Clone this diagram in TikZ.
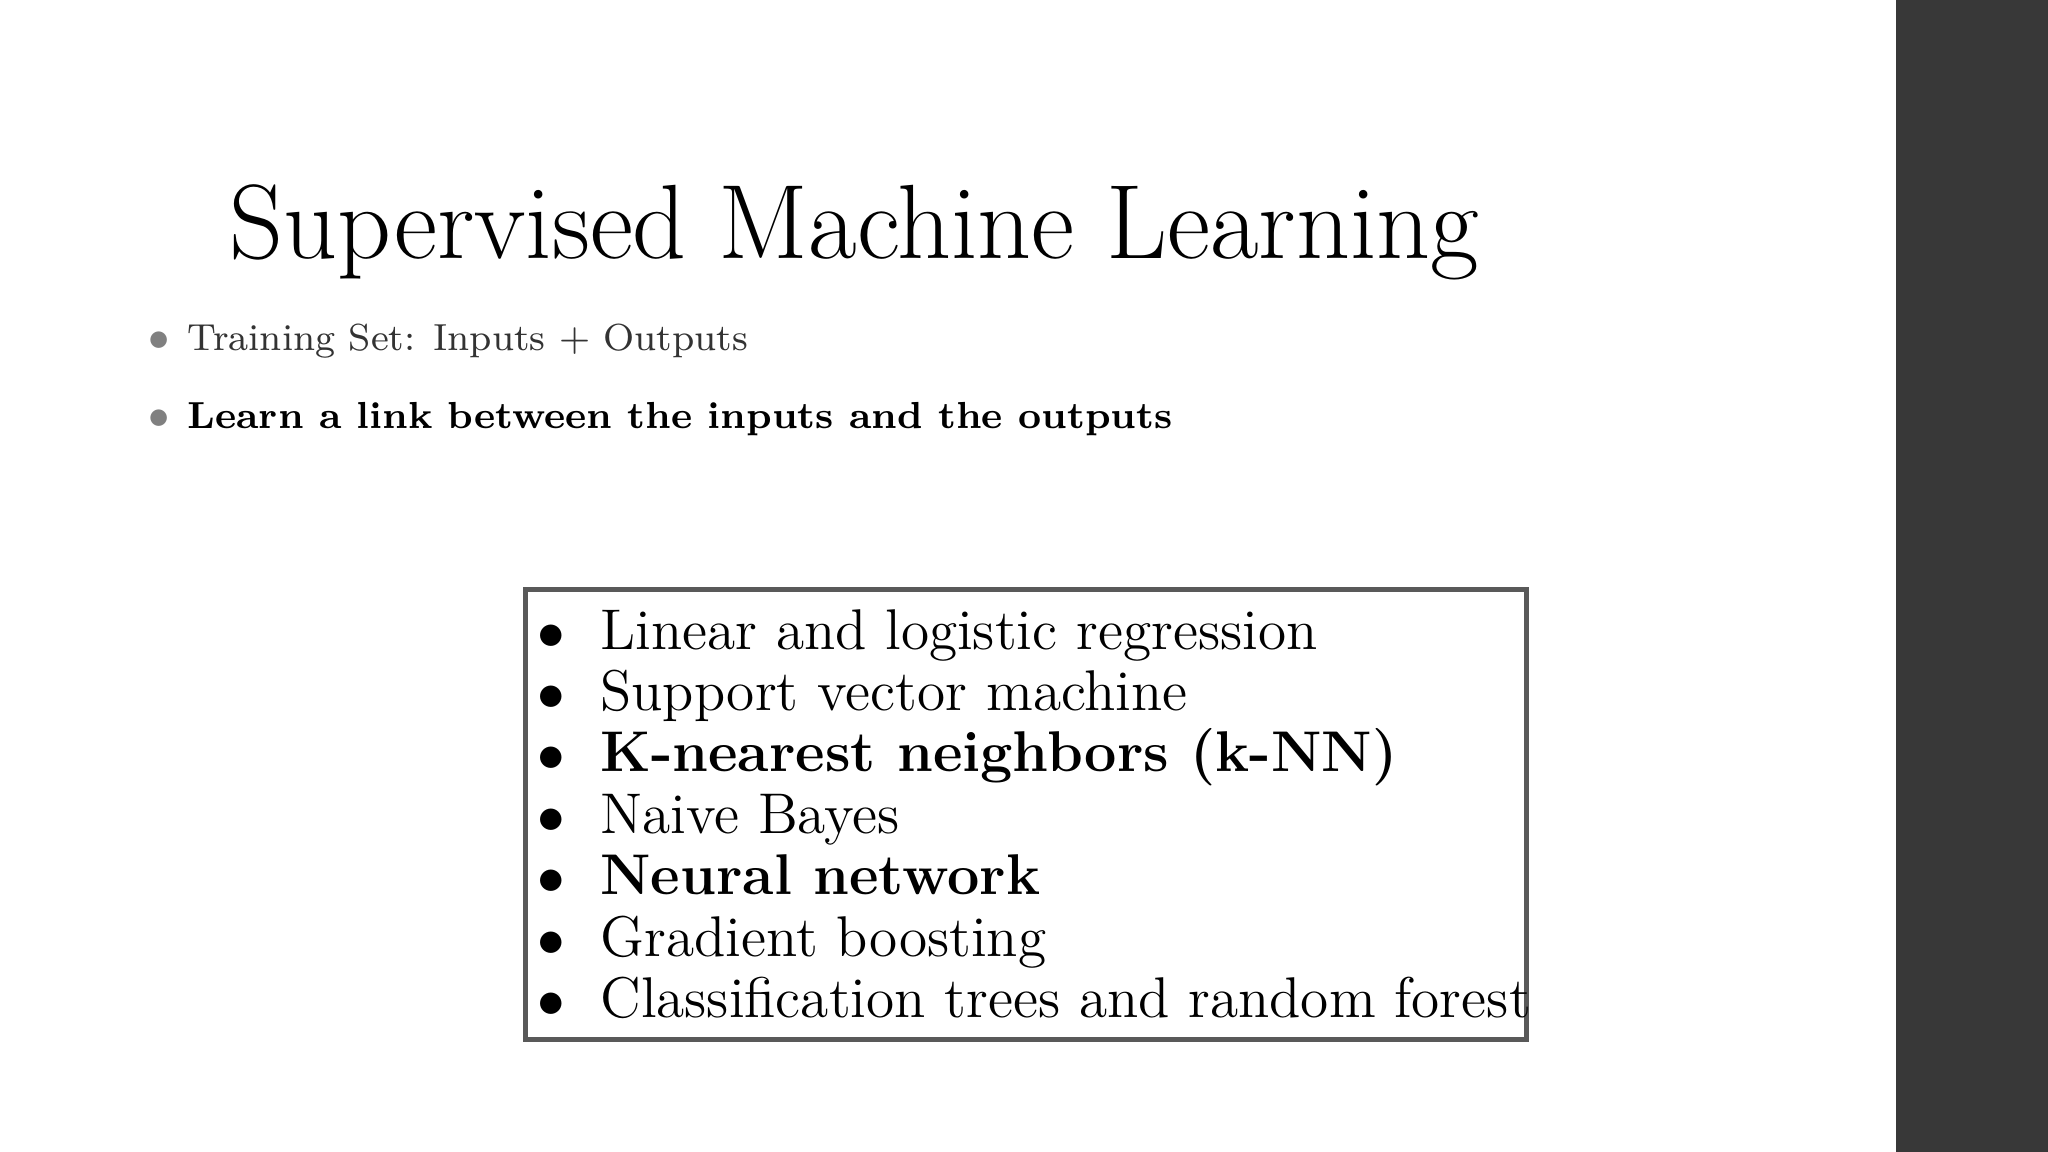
\documentclass[tikz,border=0pt]{standalone}
\begin{document}
\begin{tikzpicture}[x=0.01cm,y=-0.01cm,
  item/.style={anchor=base west,inner sep=0pt,font=\fontsize{12.5}{14}\selectfont},
  bul/.style={anchor=base,inner sep=0pt,font=\fontsize{12.5}{14}\selectfont},
  small/.style={anchor=base west,inner sep=0pt,font=\fontsize{8.2}{10}\selectfont}]
\useasboundingbox (0,0) rectangle (1568,882);
\fill[white] (0,0) rectangle (1568,882);
\fill[black!78] (1452,0) rectangle (1568,882);
\node[anchor=base west,inner sep=0pt,font=\fontsize{23}{26}\selectfont] (title) at (175,198) {Supervised Machine Learning};
\node[anchor=base,inner sep=0pt,text=black!50,font=\small] (b1) at (122,268) {$\bullet$};
\node[small,text=black!80] (t1) at (143,268) {Training Set: Inputs + Outputs};
\node[anchor=base,inner sep=0pt,text=black!50,font=\small] (b2) at (122,328) {$\bullet$};
\node[small,font=\fontsize{8.2}{10}\selectfont\bfseries] (t2) at (143,328) {Learn a link between the inputs and the outputs};
\draw[black!65,line width=1.1pt] (402,451) rectangle (1169,796);
\foreach \t [count=\i] in {Linear and logistic regression,Support vector machine,\textbf{K-nearest neighbors (k-NN)},Naive Bayes,\textbf{Neural network},Gradient boosting,Classification trees and random forest}{
  \node[bul] (bb\i) at (422,{497+47*(\i-1)}) {$\bullet$};
  \node[item] (it\i) at (459,{497+47*(\i-1)}) {\t};
}
\end{tikzpicture}
\end{document}
